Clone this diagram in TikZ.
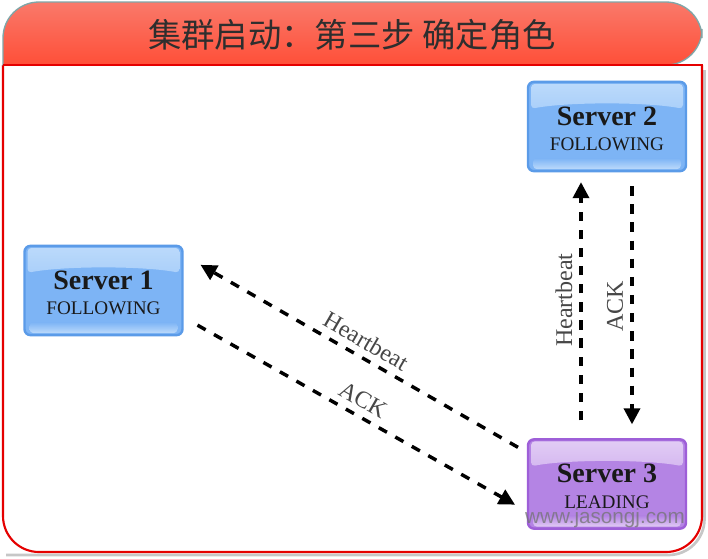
\documentclass[tikz,border=0pt]{standalone}
\usepackage{fontspec}
\setmainfont{Liberation Serif}
\newfontfamily\cjkfont{Noto Sans CJK SC}[Scale=1]
\newfontfamily\wmfont{Liberation Sans}
\usetikzlibrary{arrows.meta,calc}
\definecolor{HeaderTop}{HTML}{F9796A}
\definecolor{HeaderBot}{HTML}{FF4F38}
\definecolor{HeaderEdge}{HTML}{7FA6A8}
\definecolor{bluebody}{HTML}{7DB4F5}
\definecolor{bluegloss}{HTML}{BCDAFB}
\definecolor{bluegloss2}{HTML}{82B8F6}
\definecolor{blueedge}{HTML}{5B9BE8}
\definecolor{purpbody}{HTML}{B484E4}
\definecolor{purpgloss}{HTML}{E2CDF5}
\definecolor{purpgloss2}{HTML}{B88AE5}
\definecolor{purpedge}{HTML}{9E5FD8}
\tikzset{
  x=0.75pt,y=-0.75pt,
  serverbox/.style n args={4}{
    draw=#4,line width=1.8pt,rounded corners=4.5pt,fill=#1,
    minimum width=118.5pt,minimum height=67pt,inner sep=0pt,outer sep=0pt,
    align=center,text=black!90,
    path picture={
      \shade[top color=#2,bottom color=#3,rounded corners=3pt]
        ($(path picture bounding box.north west)+(3,2)$)
        -- ($(path picture bounding box.north east)+(-3,2)$)
        -- ($(path picture bounding box.north east)+(-3,27)$)
        .. controls ($(path picture bounding box.north)+(40,20)$) and ($(path picture bounding box.north)+(-40,20)$) ..
        ($(path picture bounding box.north west)+(3,27)$) -- cycle;
      \shade[top color=#1,bottom color=#2,rounded corners=3pt]
        ($(path picture bounding box.south west)+(5,-13)$)
        rectangle ($(path picture bounding box.south east)+(-5,-2)$);
    }},
  bluebox/.style={serverbox={bluebody}{bluegloss}{bluegloss2}{blueedge}},
  purplebox/.style={serverbox={purpbody}{purpgloss}{purpgloss2}{purpedge}},
  flow/.style={line width=2.6pt,dash pattern=on 7pt off 7.2pt,
    -{Triangle[length=12pt,width=12pt]}},
  flowv/.style={flow,dash pattern=on 7pt off 6.6pt},
  flowlabel/.style={font=\fontsize{18}{20}\selectfont,text=black!72,inner sep=0pt},
  titlelabel/.style={font=\cjkfont\fontsize{25}{28}\selectfont,text=black!82,inner sep=0pt},
}
\newcommand{\srvname}[1]{{\fontsize{21}{24}\selectfont\bfseries\rule{0pt}{17.5pt}#1}}
\newcommand{\srvrole}[1]{{\fontsize{14.4}{18}\selectfont #1}}
\begin{document}
\begin{tikzpicture}
\useasboundingbox (0,0) rectangle (708,558);
\fill[white] (0,0) rectangle (708,558);
% soft shadow
\draw[black!22,line width=2pt,rounded corners=27pt] (704.5,70) -- (704.5,555) -- (6,555);
% panel and header
\draw[red!90!black,line width=1.6pt,fill=white,rounded corners=27pt]
  (3,65) -- (3,552) -- (702,552) -- (702,65);
\draw[red!90!black,line width=1.6pt] (3,65) -- (3,90);
\draw[red!90!black,line width=1.6pt] (702,65) -- (702,90);
\draw[top color=HeaderTop,bottom color=HeaderBot,draw=HeaderEdge,line width=1pt]
  [rounded corners=27pt] (3,65) -- (3,2) -- (702,2) -- (702,65) [sharp corners] -- cycle;
\draw[red!90!black,line width=1.8pt] (2.5,65) -- (702.5,65);
\node[titlelabel] (title) at (352,35) {集群启动：第三步 确定角色};
% servers
\node[bluebox] (s1) at (103.5,290.5) {\srvname{Server 1}\\[7pt]\srvrole{FOLLOWING}};
\node[bluebox] (s2) at (607,126.5) {\srvname{Server 2}\\[7pt]\srvrole{FOLLOWING}};
\node[purplebox] (s3) at (607,484) {\srvname{Server 3}\\[7pt]\srvrole{LEADING}};
% connectors
\draw[flow] ($(s3.north west)+(-10,8)$) -- ($(s1.north east)+(18,19)$);
\draw[flow] ($(s1.south east)+(15,-10)$) -- ($(s3.south west)+(-13,-24)$);
\draw[flowv] ($(s3.north)+(-26,-19)$) -- ($(s2.south)+(-26,11)$);
\draw[flowv] ($(s2.south)+(25,15)$) -- ($(s3.north)+(25,-15)$);
% labels
\node[flowlabel,rotate=-30] (hb1) at (366,341) {Heartbeat};
\node[flowlabel,rotate=-30] (ack1) at (363,400) {ACK};
\node[flowlabel,rotate=90] (hb2) at (564,300) {Heartbeat};
\node[flowlabel,rotate=90] (ack2) at (615,306) {ACK};
% watermark
\node[font=\wmfont\fontsize{15.5}{16}\selectfont,text=black!55,opacity=.75,inner sep=0pt] (wm) at (605,518) {www.jasongj.com};
\end{tikzpicture}
\end{document}
